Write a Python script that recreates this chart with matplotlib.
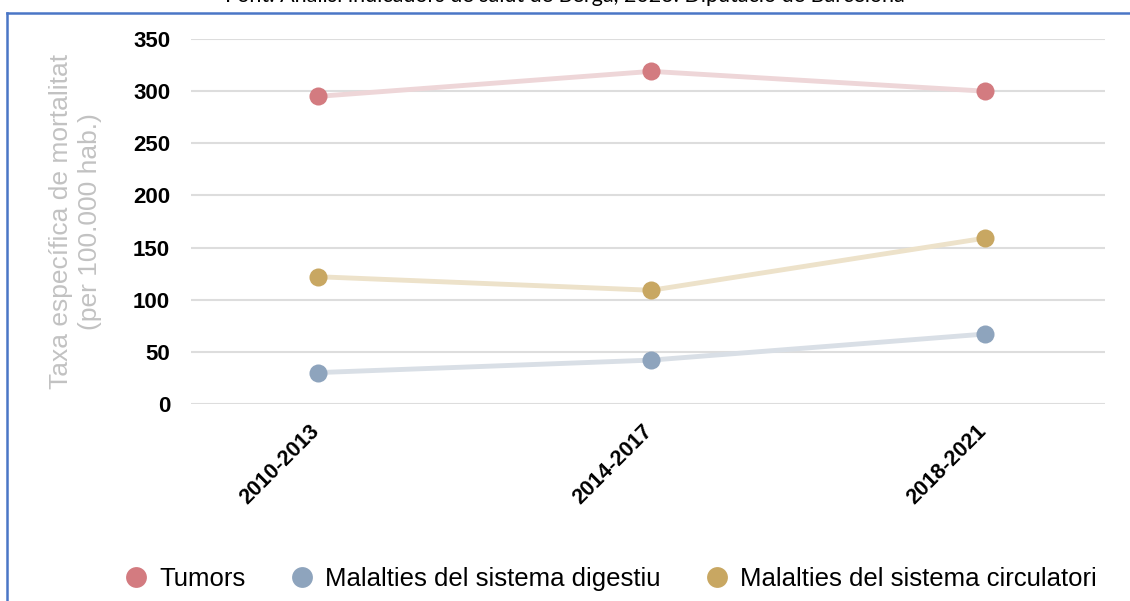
import matplotlib.pyplot as plt
from matplotlib.lines import Line2D
from matplotlib.transforms import ScaledTranslation

# data
periods = ['2010-2013', '2014-2017', '2018-2021']
tumors = [295, 319, 300]
digestiu = [30, 42, 67]
circulatori = [122, 109, 159]

series_names = ['Tumors', 'Malalties del sistema digestiu', 'Malalties del sistema circulatori']
marker_colors = ['#d37b80', '#8ea4bd', '#c8a762']
line_colors = ['#eed6d8', '#d9dfe6', '#ede2ca']

plt.rcParams['font.family'] = ['Liberation Sans', 'DejaVu Sans']

fig = plt.figure(figsize=(11.3, 6.01), dpi=100)
ax = fig.add_axes([0.169, 0.328, 0.809, 0.607])

x = list(range(len(periods)))
for vals, mc, lc in zip([tumors, digestiu, circulatori], marker_colors, line_colors):
    ax.plot(x, vals, color=lc, linewidth=3.5, zorder=2, solid_capstyle='round')
    ax.plot(x, vals, 'o', color=mc, markersize=13, zorder=3, markeredgewidth=0)

ax.set_xlim(-0.38, 2.36)
ax.set_ylim(0, 350)
ax.set_yticks(range(0, 351, 50))
ax.set_xticks(x)
ax.tick_params(axis='y', length=0, pad=15)
ax.tick_params(axis='x', length=0, pad=12)
ax.set_xticklabels(periods, rotation=45, ha='right', rotation_mode='anchor',
                   fontsize=15.5, fontweight='bold')
# nudge the slanted labels a bit to the left, as in the reference
shift = ScaledTranslation(-9 / 100, 0, fig.dpi_scale_trans)
for lab in ax.get_xticklabels():
    lab.set_transform(lab.get_transform() + shift)
for lab in ax.get_yticklabels():
    lab.set_fontsize(16)
    lab.set_fontweight('bold')
ax.grid(axis='y', color='#dddddd', linewidth=1.5)
ax.set_axisbelow(True)
for s in ax.spines.values():
    s.set_visible(False)

ax.set_ylabel('Taxa específica de mortalitat\n(per 100.000 hab.)', fontsize=19,
              color='#c2c2c2', linespacing=1.3, labelpad=22)

handles = [Line2D([], [], marker='o', linestyle='none', color=c, markersize=15,
                  markeredgewidth=0) for c in marker_colors]
fig.legend(handles, series_names, loc='center', bbox_to_anchor=(0.541, 0.036),
           ncol=3, frameon=False, fontsize=18.5, handlelength=0.8,
           handletextpad=0.5, columnspacing=1.8)

# caption cut at the top of the picture
fig.text(0.5, 0.997, 'Font: Anàlisi indicadors de salut de Berga, 2023. Diputació de Barcelona',
         ha='center', va='baseline', fontsize=15.5, family=['Lato', 'DejaVu Sans'])

# blue frame around the chart
W, H = 1130, 601
fig.add_artist(Line2D([7 / W, 1], [1 - 13 / H, 1 - 13 / H], color='#4a76c6', linewidth=1.8))
fig.add_artist(Line2D([7 / W, 7 / W], [0, 1 - 13 / H], color='#4a76c6', linewidth=1.8))

fig.savefig('out.png', dpi=100)
